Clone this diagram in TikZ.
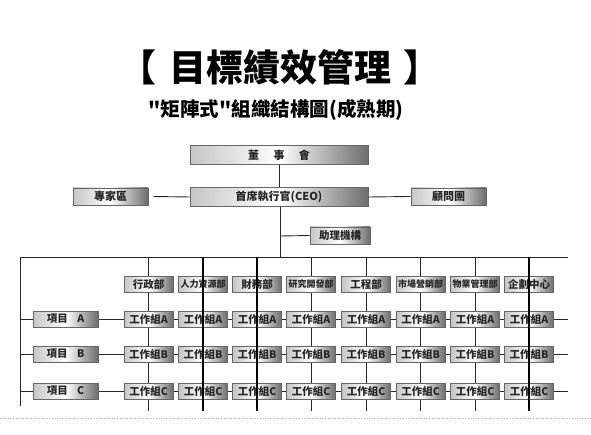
\documentclass[tikz,border=0pt]{standalone}
\usepackage{fontspec}
\setmainfont{Noto Sans CJK TC}
\newfontfamily\cjk{Noto Sans CJK TC}
\begin{document}
\begin{tikzpicture}[x=1pt,y=-1pt,
  metal/.style={draw=gray!80!black, line width=0.6pt, left color=gray!45, right color=gray!85!black, middle color=white,
    minimum height=16pt, inner sep=0pt, font=\cjk\bfseries\fontsize{10.5}{11}\selectfont, text=black!85},
  bigbox/.style={metal, minimum width=178pt, minimum height=19pt, font=\cjk\bfseries\fontsize{11}{12}\selectfont},
  sidebox/.style={metal, minimum width=75pt, minimum height=17pt, font=\cjk\bfseries\fontsize{11}{12}\selectfont},
  deptbox/.style={metal, minimum width=49pt},
  smalltext/.style={font=\cjk\bfseries\fontsize{9}{10}\selectfont},
  projbox/.style={metal, minimum width=65pt},
  conn/.style={draw=black!85, line width=0.9pt},
  thickconn/.style={draw=black, line width=1.3pt}]
\useasboundingbox (0,0) rectangle (591,435);

% titles
\node (title) at (280,67) {\cjk\bfseries\fontsize{37}{40}\selectfont 【\hspace{0.35em}目標績效管理\hspace{0.35em}】};
\node (sub) at (276,110) {\cjk\bfseries\fontsize{19.5}{21}\selectfont "矩陣式"組織結構圖(成熟期)};

% top nodes
\node[bigbox] (board) at (279,155) {董\hspace{1.3em}事\hspace{1.3em}會};
\node[bigbox] (ceo) at (279,197) {首席執行官(CEO)};
\node[sidebox] (expert) at (110.5,196.5) {專家區};
\node[sidebox] (advisor) at (448.5,196.5) {顧問團};
\node[metal, minimum width=60pt, minimum height=17pt] (assist) at (340,235.5) {助理機構};

\coordinate (trunk) at (280,257);
\coordinate (assistj) at (280,236);
\coordinate (lefttop) at (20,257);
\coordinate (righttop) at (568,257);
\coordinate (leftbot) at (20,406);

\draw[conn] (board) -- (ceo);
\draw[conn] (ceo.south -| trunk) -- (trunk);
\draw[conn] (assistj) -- (assist.west);
\draw[conn] (expert.east) ++(5,0) -- (ceo.west);
\draw[conn] (ceo.east) -- (advisor.west);
\draw[conn] (lefttop) -- (righttop);
\draw[conn] (lefttop) -- (leftbot);

% columns
\foreach \i/\x in {1/148.5,2/203,3/257,4/311,5/366,6/420.5,7/475,8/529}{
  \coordinate (ctop\i) at (\x,257);
  \coordinate (cbot\i) at (\x,411);
}
% rows
\foreach \r/\y in {A/319,B/354,C/391}{
  \coordinate (rl\r) at (20,\y);
  \coordinate (rr\r) at (568,\y);
  \draw[conn] (rl\r) -- (rr\r);
}
\foreach \i in {1,4,5,6,7}{ \draw[conn] (ctop\i) -- (cbot\i); }

% department boxes
\foreach \i/\x/\t/\s in {1/148.5/行政部/,2/203/人力資源部/smalltext,3/257/財務部/,4/311/研究開發部/smalltext,5/366/工程部/,6/420.5/市場營銷部/smalltext,7/475/物業管理部/smalltext,8/529/企劃中心/}{
  \node[deptbox,\s] (d\i) at (\x,284.5) {\t};
}
% project boxes
\foreach \r/\y in {A/319,B/354,C/391}{
  \node[projbox] (p\r) at (65.5,\y) {項目\hspace{0.9em}\r};
  \foreach \i/\x in {1/148.5,2/203,3/257,4/311,5/366,6/420.5,7/475,8/529}{
    \node[deptbox] (w\r\i) at (\x,\y) {工作組\r};
  }
}
\foreach \i in {2,3,8}{ \draw[thickconn] (ctop\i) -- (cbot\i); }

% bottom dotted rule
\coordinate (dotl) at (0,418);
\coordinate (dotr) at (591,418);
\draw[gray!70, dotted, line width=0.6pt] (dotl) -- (dotr);
\end{tikzpicture}
\end{document}
